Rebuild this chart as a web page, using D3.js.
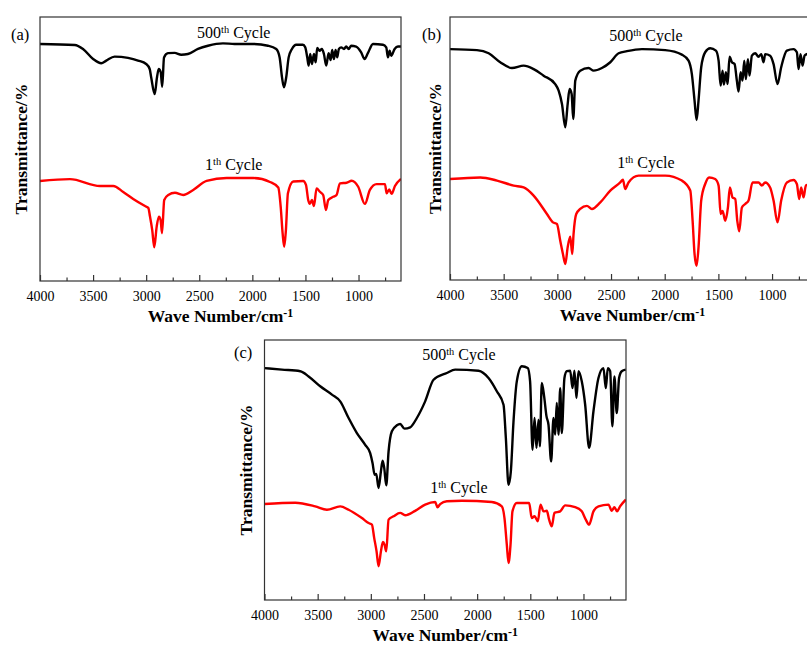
<!DOCTYPE html>
<html>
<head>
<meta charset="utf-8">
<script src="https://cdn.jsdelivr.net/npm/d3@7"></script>
<style>
  html, body { margin: 0; padding: 0; background: #fff; }
  svg { display: block; font-family: "Liberation Serif", "Times New Roman", serif; }
</style>
</head>
<body>
<svg id="chart" width="807" height="646"></svg>
<script>
// ---------- data (wavenumber cm^-1, transmittance in arbitrary %) ----------
const majorTicks = [4000, 3500, 3000, 2500, 2000, 1500, 1000];
const minorTicks = [3750, 3250, 2750, 2250, 1750, 1250, 750];
const seriesNames = ["500th Cycle", "1th Cycle"];
const panelNames = ["(a)", "(b)", "(c)"];

const a500 = [[4000,89.8],[3673,89.4],[3595,87.9],[3500,84.1],[3423,82.5],[3376,83.5],[3297,85.0],[3171,84.5],[3077,83.5],[3000,82.2],[2967,80.3],[2953,77.2],[2920,70.8],[2898,77.2],[2882,80.3],[2863,79.1],[2849,73.6],[2832,84.7],[2795,86.3],[2732,86.4],[2670,85.7],[2607,86.0],[2512,87.9],[2418,89.1],[2277,90.0],[2167,89.8],[2010,89.8],[1853,89.1],[1775,87.9],[1743,84.7],[1721,77.2],[1702,73.4],[1681,77.2],[1658,84.7],[1627,87.9],[1587,89.5],[1524,89.5],[1502,88.5],[1483,84.7],[1470,81.6],[1455,86.0],[1439,82.2],[1420,86.0],[1404,82.8],[1389,88.3],[1367,87.2],[1345,87.9],[1326,86.0],[1304,81.6],[1282,86.3],[1263,83.7],[1248,87.5],[1232,84.1],[1216,87.5],[1201,84.7],[1185,87.9],[1163,88.5],[1137,87.9],[1116,88.8],[1093,87.9],[1069,89.1],[1022,88.8],[975,86.6],[943,84.1],[912,86.3],[864,89.8],[770,89.5],[739,88.5],[723,84.7],[707,87.2],[692,85.3],[660,87.9],[629,88.8],[600,88.8]];
const a1 = [[4000,37.9],[3718,38.6],[3435,36.0],[3310,36.0],[3216,33.7],[3122,31.1],[3011,28.4],[2980,27.7],[2964,24.4],[2943,19.3],[2924,12.8],[2901,20.6],[2880,24.4],[2864,23.1],[2851,18.1],[2830,30.7],[2792,32.6],[2729,33.4],[2651,32.6],[2557,34.5],[2431,37.9],[2242,39.0],[1991,39.0],[1834,37.5],[1756,35.4],[1733,28.1],[1715,18.1],[1700,13.0],[1684,19.3],[1665,33.2],[1615,37.7],[1521,37.9],[1495,36.4],[1474,30.7],[1458,29.2],[1439,30.7],[1420,28.4],[1395,35.1],[1364,33.8],[1333,32.6],[1307,26.9],[1285,30.7],[1238,31.9],[1207,32.6],[1175,37.0],[1112,37.2],[1065,38.0],[1003,35.7],[940,29.2],[893,34.5],[830,36.7],[751,36.7],[735,33.2],[711,34.7],[689,33.0],[657,36.0],[610,38.3],[600,38.6]];

const b500 = [[4000,87.8],[3749,87.4],[3640,86.2],[3532,82.8],[3423,80.6],[3314,81.5],[3221,80.2],[3128,77.7],[3020,74.5],[2988,72.0],[2957,66.9],[2926,58.1],[2904,66.9],[2886,72.6],[2867,70.7],[2852,61.2],[2833,75.8],[2787,79.6],[2709,80.6],[2662,79.6],[2585,80.6],[2507,82.8],[2429,86.2],[2352,87.0],[2212,87.8],[1995,87.4],[1840,85.7],[1778,83.4],[1747,78.3],[1722,68.2],[1703,60.8],[1685,68.2],[1660,80.9],[1623,86.6],[1576,88.1],[1523,87.2],[1498,83.4],[1479,73.9],[1461,79.6],[1449,74.3],[1430,79.0],[1414,74.5],[1396,84.9],[1374,82.8],[1349,82.1],[1328,75.8],[1312,71.7],[1293,79.0],[1275,75.8],[1259,83.4],[1244,76.4],[1225,84.0],[1210,77.7],[1188,85.3],[1157,86.2],[1126,84.9],[1101,85.9],[1079,82.8],[1064,85.9],[1018,85.3],[986,82.1],[949,74.5],[915,80.9],[862,87.2],[800,87.8],[769,86.6],[753,80.2],[735,85.9],[716,81.5],[697,85.3],[676,85.9],[640,86.5],[600,87.0]];
const b1 = [[4000,38.4],[3718,39.0],[3562,37.8],[3407,35.9],[3314,35.2],[3221,32.1],[3097,25.1],[3041,21.9],[3004,21.3],[2973,14.9],[2948,9.9],[2926,6.1],[2904,12.4],[2880,16.5],[2861,9.9],[2849,17.5],[2824,25.1],[2787,27.0],[2725,28.2],[2678,27.0],[2600,29.5],[2507,34.0],[2414,37.1],[2389,38.1],[2368,34.6],[2337,37.1],[2243,39.7],[1995,39.7],[1840,37.8],[1762,34.0],[1740,22.5],[1722,9.9],[1703,5.4],[1685,12.4],[1660,30.2],[1623,36.5],[1586,39.0],[1530,38.4],[1498,35.9],[1479,25.1],[1461,26.3],[1436,22.5],[1411,27.6],[1393,35.2],[1368,31.4],[1343,30.8],[1324,22.5],[1306,18.5],[1281,27.6],[1250,28.9],[1219,30.2],[1182,37.1],[1126,37.1],[1095,35.9],[1064,37.1],[1018,35.2],[986,30.2],[949,21.9],[915,30.2],[862,37.1],[800,38.0],[769,36.5],[747,30.8],[729,35.2],[707,31.4],[685,35.9],[640,36.5],[600,37.5]];

const c500 = [[4000,89.2],[3836,88.6],[3664,88.0],[3585,86.0],[3476,82.2],[3366,79.0],[3288,76.4],[3209,70.0],[3131,64.2],[3053,59.7],[3006,56.5],[2984,52.7],[2964,48.2],[2949,48.5],[2927,43.1],[2905,49.5],[2889,53.6],[2874,50.8],[2855,44.1],[2833,57.2],[2802,64.9],[2755,67.2],[2724,67.7],[2683,65.9],[2630,66.4],[2567,70.0],[2489,76.4],[2410,84.7],[2285,87.3],[2207,88.6],[1987,88.2],[1893,85.4],[1815,80.3],[1752,75.1],[1730,62.3],[1705,44.3],[1683,49.5],[1658,68.7],[1627,84.1],[1580,89.9],[1524,89.2],[1502,84.1],[1479,57.8],[1460,70.0],[1442,58.5],[1423,69.3],[1410,59.1],[1392,83.5],[1370,78.3],[1348,70.7],[1329,67.4],[1304,53.3],[1282,70.0],[1266,63.6],[1251,75.8],[1235,63.6],[1219,81.5],[1204,64.2],[1179,85.4],[1157,88.0],[1125,88.2],[1103,81.5],[1085,88.2],[1066,77.7],[1047,88.0],[1016,84.1],[984,75.1],[947,58.5],[906,72.6],[859,85.4],[812,89.2],[790,81.5],[771,89.2],[749,88.0],[728,66.8],[709,86.0],[687,71.9],[665,85.4],[640,88.0],[602,88.6]];
const c1 = [[4000,36.9],[3711,37.4],[3523,36.0],[3413,34.7],[3288,36.0],[3209,34.7],[3084,31.5],[3021,29.6],[2990,29.0],[2968,23.8],[2946,18.7],[2927,13.0],[2905,18.7],[2886,22.3],[2871,21.3],[2855,18.7],[2833,30.9],[2786,32.2],[2724,33.5],[2677,32.6],[2583,34.3],[2489,36.7],[2395,37.7],[2373,35.7],[2348,36.9],[2285,38.0],[2144,38.2],[1862,37.7],[1768,36.0],[1743,31.5],[1721,21.3],[1705,14.2],[1686,21.3],[1668,34.1],[1627,37.3],[1511,37.3],[1486,31.5],[1460,32.2],[1429,30.3],[1404,36.7],[1376,34.1],[1345,34.3],[1323,30.9],[1298,28.3],[1273,33.5],[1219,34.1],[1172,36.4],[1078,35.7],[1016,34.1],[978,30.9],[947,29.0],[906,34.1],[859,36.0],[765,36.7],[734,34.3],[709,35.7],[684,34.1],[656,36.0],[602,38.6]];

// label anchor positions in data units [wavenumber, transmittance]
const labelPos500 = [[2175, 92.0], [2175, 90.9], [2172, 92.3]];
const labelPos1   = [[2175, 42.0], [2175, 42.6], [2172, 41.2]];

// ---------- layout ----------
const FONT = "Liberation Serif, Times New Roman, serif";
const panels = [
  { id: "a", name: panelNames[0], s500: a500, s1: a1, left: 40,    right: 401, top: 17,  bottom: 281, yTitleX: 27,  nameX: 11,  nameY: 40 },
  { id: "b", name: panelNames[1], s500: b500, s1: b1, left: 450,   right: 815, top: 17,  bottom: 280, yTitleX: 441, nameX: 422, nameY: 40 },
  { id: "c", name: panelNames[2], s500: c500, s1: c1, left: 264.5, right: 626, top: 340, bottom: 600, yTitleX: 252, nameX: 234, nameY: 358 }
];

const svg = d3.select("#chart");
svg.append("rect").attr("width", 807).attr("height", 646).attr("fill", "#fff");

panels.forEach((p, i) => {
  const x = d3.scaleLinear().domain([4000, 600]).range([p.left, p.right]);
  const y = d3.scaleLinear().domain([0, 100]).range([p.bottom, p.top]);
  const g = svg.append("g").attr("font-family", FONT);

  const clipId = "clip-" + p.id;
  svg.append("clipPath").attr("id", clipId)
    .append("rect").attr("x", p.left).attr("y", p.top)
    .attr("width", p.right - p.left).attr("height", p.bottom - p.top);

  const line = d3.line().x(d => x(d[0])).y(d => y(d[1])).curve(d3.curveMonotoneX);

  const curves = g.append("g").attr("clip-path", `url(#${clipId})`);
  curves.append("path").datum(p.s500)
    .attr("d", line).attr("fill", "none").attr("stroke", "#000")
    .attr("stroke-width", 2.4).attr("stroke-linejoin", "round");
  curves.append("path").datum(p.s1)
    .attr("d", line).attr("fill", "none").attr("stroke", "#ff0000")
    .attr("stroke-width", 2.4).attr("stroke-linejoin", "round");

  // frame
  g.append("rect").attr("x", p.left).attr("y", p.top)
    .attr("width", p.right - p.left).attr("height", p.bottom - p.top)
    .attr("fill", "none").attr("stroke", "#333").attr("stroke-width", 1.2);

  // bottom axis
  const ax = d3.axisBottom(x).tickValues(majorTicks).tickFormat(d3.format("d"))
    .tickSizeInner(-6).tickSizeOuter(0).tickPadding(10);
  const axG = g.append("g").attr("transform", `translate(0,${p.bottom})`).call(ax)
    .attr("font-family", FONT).attr("font-size", 14);
  axG.select(".domain").remove();
  axG.selectAll(".tick line").attr("stroke", "#333").attr("stroke-width", 1.2);
  axG.selectAll(".tick text").attr("fill", "#000");

  const axMinor = d3.axisBottom(x).tickValues(minorTicks).tickSizeInner(-3.5).tickSizeOuter(0).tickFormat("");
  const axmG = g.append("g").attr("transform", `translate(0,${p.bottom})`).call(axMinor);
  axmG.select(".domain").remove();
  axmG.selectAll(".tick line").attr("stroke", "#333").attr("stroke-width", 1.2);

  // x title
  const xt = g.append("text")
    .attr("x", (p.left + p.right) / 2).attr("y", p.bottom + 41)
    .attr("text-anchor", "middle").attr("font-weight", "bold").attr("font-size", 17.5);
  xt.append("tspan").text("Wave Number/cm");
  xt.append("tspan").attr("dy", "-0.45em").attr("font-size", "0.68em").text("-1");

  // y title
  g.append("text")
    .attr("transform", `translate(${p.yTitleX},${(p.top + p.bottom) / 2}) rotate(-90)`)
    .attr("text-anchor", "middle").attr("font-weight", "bold").attr("font-size", 17.5)
    .text("Transmittance/%");

  // panel name
  g.append("text").attr("x", p.nameX).attr("y", p.nameY)
    .attr("font-size", 16.5).text(p.name);

  // series labels
  function seriesLabel(pos, num) {
    const t = g.append("text").attr("x", x(pos[0])).attr("y", y(pos[1]))
      .attr("text-anchor", "middle").attr("font-size", 16);
    t.append("tspan").text(num);
    t.append("tspan").attr("dy", "-0.45em").attr("font-size", "0.65em").text("th");
    t.append("tspan").attr("dy", "0.29em").text(" Cycle");
  }
  seriesLabel(labelPos500[i], seriesNames[0].replace("th Cycle", ""));
  seriesLabel(labelPos1[i], seriesNames[1].replace("th Cycle", ""));
});
</script>
</body>
</html>
